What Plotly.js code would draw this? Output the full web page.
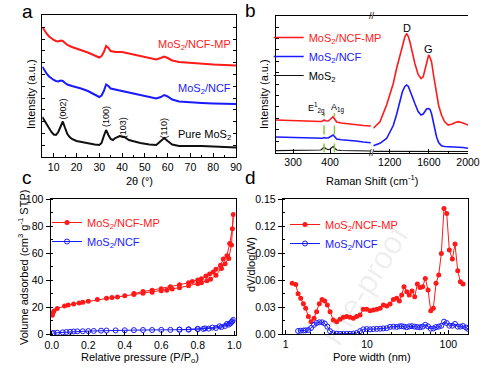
<!DOCTYPE html>
<html><head><meta charset="utf-8">
<script src="https://cdn.plot.ly/plotly-3.0.1.min.js"></script>
<style>html,body{margin:0;padding:0;background:#fff}#chart{width:492px;height:372px}</style>
</head><body><div id="chart"></div>
<script>
// ---------- Panel a: XRD ----------
const xrdTheta = [5,6,7,8,9,10,11,12,13,14,15,16,18,20,22,25,28,30,31,32,33,34,35,37,40,43,46,50,53,55,57,58.5,60,62,65,70,75,80,85,90];
const xrdMP = [130,126,123,120.5,118.5,117,116,115.5,116.5,116,114,112,110,108.5,107,104.5,101.5,99.5,101,105,111,109,106,105,105,103.5,102,100,98.5,97.5,99,100.5,99,96.5,95,94,93,92.5,92,91.5];
const xrdNCF = [90.3,86,83,80.5,78.5,77,76,75.5,76.5,76,74,72.5,71,70,68.5,66,62.5,60,61.5,66,72.5,71,68.5,67.5,66.5,65,63,61.5,60,58.5,60,62,60.5,57.5,55.5,54.5,54,53.5,53.5,53];
const xrdThetaPure = [5,6,7,8,9,10,11,12,13,14,15,16,17,18,20,22,25,28,30,31,32,33,34,35,36,37,39,41,43,45,48,52,55,57,58.5,60,62,65,68,70,75,80,85,90];
const xrdPure = [40,36,32,28,25,22.5,22,25,31,35.5,29,23,20,18,16,15,13.5,12.5,12,14,21,27,22,18,17,19,21,20,17,15.5,14,12.5,12,16,19,16,12.5,11,11,11.5,11,10.5,10,9.5];
const xrdPeakLabels = ["(002)","(100)","(103)","(110)"];
const xrdPeakPos = [14.3,33,40.5,58.6];
const xrdPeakLabelY = [48,40,29,29];

// ---------- Panel b: Raman ----------
const ramanLX = [253,270,290,310,330,350,365,375,380,384,388,395,400,405,408,412,418,430,450,470,490,510];
const ramanLMP = [32.5,32.2,31.8,31.5,31.2,30.8,30.8,31,31.5,32.5,31.8,31.5,33,35.5,35.8,33.5,30.5,29.5,28.5,27.8,27,26.5];
const ramanLNCF = [15.5,15.3,15,14.8,14.5,14.2,14,14,14.3,15,14.5,14.5,15.5,17,17.5,16,13.5,12.8,12.3,11.5,10.5,9.8];
const ramanLMoS2 = [1.8,1.8,1.8,1.8,1.9,2,2,2.5,4,5.5,4,2.8,3.5,5.5,6,4.5,2.5,2,1.8,1.6,1.5,1.5];
const ramanRX = [1032,1100,1168,1236,1270,1304,1330,1355,1372,1390,1406,1430,1457,1490,1520,1542,1560,1576,1598,1612,1627,1650,1678,1700,1729,1760,1797,1840,1870,1899,1950,2000];
const ramanRMP = [24.2,30.8,47.5,69,84,97.5,108,115.8,119,116,110.8,99,89,78,74,75.8,83,90.8,97.5,95,90.8,76,59,47,37.5,31,27.5,28.5,30,30.8,29.5,27.5];
const ramanRNCF = [6.8,9.2,14,27,38,52,61,66,67.5,66,62.5,56,49,41,37.5,38.5,41,43.5,44,43,39,27,15.8,10,6.8,6,5.8,5.8,5.8,5.8,5,4.2];
const ramanRMoS2 = [1.1,1.1,1.1,1.1,1.1,1.1,1.1,1.1,1.1,1.1,1.1,1.1,1.1,1.1,1.1,1.1,1.1,1.1,1.1,1.1,1.1,1.1,1.1,1.1,1.0,1.0,1.0,1.0,1.0,1.0,1.0,1.0];
const ramanModes = [383.7, 411.8];
const ramanModeLabels = ["E<sup>1</sup><sub>2g</sub>", "A<sub>1g</sub>"];
const ramanModeLabelX = [364, 421];

// ---------- Panel c: N2 isotherm ----------
const betMPAdsP = [0.003,0.006,0.012,0.03,0.07,0.09,0.12,0.15,0.17,0.2,0.25,0.3,0.33,0.36,0.4,0.45,0.5,0.55,0.6,0.63,0.66,0.7,0.75,0.8,0.82,0.85,0.87,0.9,0.93,0.95,0.97,0.985,0.995];
const betMPAdsV = [14,15.5,17,19,20.8,21.5,22.3,23,23.5,24.3,25.5,26.5,27,27.5,28.3,29.3,30.3,31,32,32.5,33.3,34.3,35.8,37.3,38,39.5,40.5,43.5,48.5,52,56,66,88.5];
const betMPDesP = [0.99,0.975,0.96,0.94,0.925,0.9,0.885,0.865,0.845,0.82,0.8,0.77,0.75,0.7,0.65,0.6,0.55,0.5,0.45];
const betMPDesV = [78,67,58,55.5,51,48,46,44.5,43,41,40,39,38,36.5,35,33.5,32.5,31.5,30];
const betNCFAdsP = [0.003,0.01,0.03,0.06,0.08,0.1,0.12,0.14,0.17,0.2,0.23,0.27,0.3,0.35,0.4,0.45,0.5,0.55,0.6,0.65,0.7,0.75,0.8,0.83,0.86,0.9,0.93,0.95,0.97,0.98,0.99,0.995];
const betNCFAdsV = [0.5,0.8,1.0,1.3,1.5,1.7,1.9,2.0,2.1,2.2,2.3,2.5,2.6,2.7,2.8,2.9,3.0,3.0,3.1,3.1,3.2,3.3,3.6,3.8,4.0,4.5,5.2,6.0,7.0,8.0,9.5,10.5];
const betNCFDesP = [0.985,0.96,0.92,0.88,0.84,0.8,0.75,0.7];
const betNCFDesV = [9.0,7.5,5.8,4.8,4.2,3.9,3.5,3.3];

// ---------- Panel d: pore size distribution ----------
const poreMPW = [1.2,1.33,1.42,1.53,1.65,1.76,1.9,2.05,2.23,2.4,2.59,2.8,3.02,3.25,3.51,3.85,4.24,4.66,5.12,5.62,6.18,6.79,7.46,8.2,9.01,9.91,10.9,11.97,13.2,14.5,15.9,17.5,19.2,21.1,23.2,25,26.7,28.5,30.8,33.1,35.7,38.6,41.6,44.9,48.4,52.1,56.3,60.8,65.4,70.6,76.2,82,88.5,95.5,102.9,112,120.8,130.5,140.6,151.7];
const poreMPV = [0.0565,0.0553,0.045,0.040,0.034,0.029,0.0196,0.014,0.0177,0.025,0.034,0.0387,0.037,0.0325,0.025,0.0159,0.014,0.0166,0.0188,0.0196,0.0188,0.0177,0.0196,0.0214,0.0277,0.0277,0.0262,0.027,0.0277,0.0288,0.0325,0.0314,0.0336,0.0387,0.040,0.037,0.0435,0.0528,0.0472,0.0435,0.048,0.0417,0.0557,0.052,0.0528,0.062,0.049,0.0262,0.0288,0.0565,0.0657,0.0897,0.1395,0.134,0.0934,0.0834,0.100,0.0705,0.0583,0.0557];
const poreNCFW = [1.42,1.53,1.65,1.76,1.9,2.05,2.23,2.4,2.59,2.8,3.02,3.25,3.51,3.85,4.24,4.66,5.12,5.62,6.18,6.79,7.46,8.2,9.01,9.91,10.9,11.97,13.2,14.5,15.9,17.5,19.2,21.1,23.2,25,26.7,28.5,30.8,33.1,35.7,38.6,41.6,44.9,48.4,52.1,56.3,60.8,65.4,70.6,76.2,82,88.5,95.5,102.9,112,120.8,130.5,140.6,151.7,165,175];
const poreNCFV = [0.0037,0.0040,0.0042,0.0044,0.0048,0.0070,0.0105,0.0125,0.0133,0.0133,0.012,0.0085,0.0035,0.0012,0.0006,0.0005,0.0005,0.0005,0.0005,0.0008,0.0015,0.0035,0.0055,0.0058,0.0055,0.0058,0.006,0.0062,0.0065,0.0068,0.0082,0.0085,0.0082,0.0088,0.009,0.0085,0.0078,0.0088,0.009,0.0085,0.008,0.0078,0.0085,0.0105,0.0088,0.0062,0.0065,0.008,0.0085,0.0095,0.014,0.0125,0.0095,0.0095,0.0115,0.0085,0.0085,0.0092,0.0075,0.006];

const RED = "#ff1a1a", BLUE = "#1a1aff", BLACK = "#111111", GREEN = "#8cc63f";
const FONT = "Liberation Sans, Arial, sans-serif";
const W = 492, H = 372;
const px = v => v / W, py = v => 1 - v / H;

const traces = [
  // panel a
  {x: xrdTheta, y: xrdMP, xaxis: "x", yaxis: "y", mode: "lines", line: {color: RED, width: 2}, showlegend: false},
  {x: xrdTheta, y: xrdNCF, xaxis: "x", yaxis: "y", mode: "lines", line: {color: BLUE, width: 2}, showlegend: false},
  {x: xrdThetaPure, y: xrdPure, xaxis: "x", yaxis: "y", mode: "lines", line: {color: BLACK, width: 2}, showlegend: false},
  // panel b
  {x: ramanLX, y: ramanLMP, xaxis: "x2", yaxis: "y2", mode: "lines", line: {color: RED, width: 1.6}, name: '<span style="color:#ff1a1a">MoS<sub>2</sub>/NCF-MP</span>', legend: "legend"},
  {x: ramanLX, y: ramanLNCF, xaxis: "x2", yaxis: "y2", mode: "lines", line: {color: BLUE, width: 1.6}, name: '<span style="color:#1a1aff">MoS<sub>2</sub>/NCF</span>', legend: "legend"},
  {x: ramanLX, y: ramanLMoS2, xaxis: "x2", yaxis: "y2", mode: "lines", line: {color: BLACK, width: 1.2}, name: 'MoS<sub>2</sub>', legend: "legend"},
  {x: ramanRX, y: ramanRMP, xaxis: "x3", yaxis: "y2", mode: "lines", line: {color: RED, width: 1.6}, showlegend: false},
  {x: ramanRX, y: ramanRNCF, xaxis: "x3", yaxis: "y2", mode: "lines", line: {color: BLUE, width: 1.6}, showlegend: false},
  {x: ramanRX, y: ramanRMoS2, xaxis: "x3", yaxis: "y2", mode: "lines", line: {color: BLACK, width: 1.2}, showlegend: false},
  // panel c
  {x: betMPAdsP.concat(betMPDesP), y: betMPAdsV.concat(betMPDesV), xaxis: "x4", yaxis: "y3", mode: "lines+markers",
   line: {color: RED, width: 1}, marker: {symbol: "circle", size: 5, color: RED}, name: '<span style="color:#ff1a1a">MoS<sub>2</sub>/NCF-MP</span>', legend: "legend2"},
  {x: betNCFAdsP.concat(betNCFDesP), y: betNCFAdsV.concat(betNCFDesV), xaxis: "x4", yaxis: "y3", mode: "lines+markers",
   line: {color: BLUE, width: 1}, marker: {symbol: "circle-open", size: 5, color: BLUE, line: {width: 1}}, name: '<span style="color:#1a1aff">MoS<sub>2</sub>/NCF</span>', legend: "legend2"},
  // panel d
  {x: poreMPW, y: poreMPV, xaxis: "x5", yaxis: "y4", mode: "lines+markers",
   line: {color: RED, width: 1}, marker: {symbol: "circle", size: 5, color: RED}, name: '<span style="color:#ff1a1a">MoS<sub>2</sub>/NCF-MP</span>', legend: "legend3"},
  {x: poreNCFW, y: poreNCFV, xaxis: "x5", yaxis: "y4", mode: "lines+markers",
   line: {color: BLUE, width: 1}, marker: {symbol: "circle-open", size: 5, color: BLUE, line: {width: 1}}, name: '<span style="color:#1a1aff">MoS<sub>2</sub>/NCF</span>', legend: "legend3"}
];

const tickFont = {family: FONT, size: 10.5, color: "#000"};
const baseAxis = {showline: true, linecolor: "#000", linewidth: 1, showgrid: false, zeroline: false, ticks: "outside", ticklen: 4, tickcolor: "#000", tickfont: tickFont, fixedrange: true};
const xBase = Object.assign({}, baseAxis, {ticks: "inside", ticklen: 4, mirror: true});
const minorIn = (o) => Object.assign({ticks: "inside", ticklen: 2, tickcolor: "#000"}, o);

const layout = {
  width: W, height: H, margin: {l: 0, r: 0, t: 0, b: 0},
  paper_bgcolor: "#fff", plot_bgcolor: "rgba(0,0,0,0)",
  font: {family: FONT, size: 11, color: "#000"},
  // a
  xaxis: Object.assign({}, xBase, {domain: [px(42.3), px(236)], anchor: "y", range: [5, 90], tick0: 0, dtick: 10, minor: minorIn({dtick: 5})}),
  yaxis: Object.assign({}, baseAxis, {domain: [py(157), py(15)], anchor: "x", range: [0, 142], showticklabels: false, ticks: "inside", ticklen: 3, dtick: 11.8, mirror: "ticks"}),
  // b
  xaxis2: Object.assign({}, xBase, {domain: [px(275.7), px(371.5)], anchor: "y2", range: [253, 512], tickvals: [300, 400]}),
  xaxis3: Object.assign({}, xBase, {domain: [px(373.3), px(468)], anchor: "y2", range: [1032, 2000], tickvals: [1200, 1600, 2000], minor: minorIn({tickvals: [1400, 1800]})}),
  yaxis2: Object.assign({}, baseAxis, {domain: [py(152.5), py(16)], anchor: "x2", range: [0, 136.5], showticklabels: false, ticks: "inside", ticklen: 3, dtick: 11.4}),
  yaxis5: Object.assign({}, baseAxis, {domain: [py(152.5), py(16)], anchor: "x3", overlaying: "y2", side: "right", range: [0, 136.5], showticklabels: false, ticks: "inside", ticklen: 3, dtick: 11.4}),
  // c
  xaxis4: Object.assign({}, xBase, {domain: [px(50.5), px(235.5)], anchor: "y3", range: [-0.007, 1.007], dtick: 0.2, tickformat: ".1f", minor: minorIn({dtick: 0.1})}),
  yaxis3: Object.assign({}, baseAxis, {domain: [py(335), py(199)], anchor: "x4", range: [-0.7, 100], dtick: 20, mirror: true, minor: minorIn({dtick: 10})}),
  // d
  xaxis5: Object.assign({}, xBase, {domain: [px(282.7), px(468)], anchor: "y4", type: "log", range: [-0.037, 2.242], tickvals: [1, 10, 100], minor: minorIn({tickvals: [2,3,4,5,6,7,8,9,20,30,40,50,60,70,80,90]})}),
  yaxis4: Object.assign({}, baseAxis, {domain: [py(334.3), py(199)], anchor: "x5", range: [0, 0.15], dtick: 0.03, tickformat: ".2f", mirror: true, minor: minorIn({dtick: 0.015})}),
  legend: {x: px(268.7), y: py(23), xanchor: "left", yanchor: "top", bgcolor: "rgba(0,0,0,0)", font: {family: FONT, size: 11}, tracegroupgap: 0},
  legend2: {x: px(47), y: py(208), xanchor: "left", yanchor: "top", bgcolor: "rgba(0,0,0,0)", font: {family: FONT, size: 11}},
  legend3: {x: px(285), y: py(210), xanchor: "left", yanchor: "top", bgcolor: "rgba(0,0,0,0)", font: {family: FONT, size: 11}},
  shapes: ramanModes.map(m => ({type: "line", xref: "x2", yref: "y2", x0: m, x1: m, y0: 0, y1: 39.5, line: {color: GREEN, width: 1.5, dash: "dash"}})),
  annotations: []
};

const ann = layout.annotations;
const A = (o) => ann.push(Object.assign({showarrow: false, xanchor: "center", yanchor: "middle", font: {family: FONT, size: 11, color: "#000"}}, o));
// panel letters
A({text: "a", xref: "paper", yref: "paper", x: px(27), y: py(12), font: {family: FONT, size: 19}});
A({text: "b", xref: "paper", yref: "paper", x: px(250), y: py(11), font: {family: FONT, size: 19}});
A({text: "c", xref: "paper", yref: "paper", x: px(27), y: py(177), font: {family: FONT, size: 19}});
A({text: "d", xref: "paper", yref: "paper", x: px(250), y: py(177), font: {family: FONT, size: 19}});
// axis titles
A({text: "Intensity (a.u.)", xref: "paper", yref: "paper", x: px(31), y: py(94), textangle: -90});
A({text: "2θ (°)", xref: "paper", yref: "paper", x: px(139), y: py(181)});
A({text: "Intensity (a.u.)", xref: "paper", yref: "paper", x: px(264), y: py(94), textangle: -90});
A({text: "Raman Shift (cm<sup>-1</sup>)", xref: "paper", yref: "paper", x: px(372), y: py(180)});
A({text: "Volume adsorbed (cm<sup>3</sup> g<sup>-1</sup> STP)", xref: "paper", yref: "paper", x: px(23), y: py(268), textangle: -90});
A({text: "Relative pressure (P/P<sub>o</sub>)", xref: "paper", yref: "paper", x: px(140), y: py(358)});
A({text: "dV/dlog(W)", xref: "paper", yref: "paper", x: px(251), y: py(265), textangle: -90});
A({text: "Pore width (nm)", xref: "paper", yref: "paper", x: px(372), y: py(357)});
// panel a labels
A({text: "MoS<sub>2</sub>/NCF-MP", xref: "x", yref: "y", x: 88.5, y: 112, xanchor: "right", font: {family: FONT, size: 11, color: RED}});
A({text: "MoS<sub>2</sub>/NCF", xref: "x", yref: "y", x: 88.5, y: 68, xanchor: "right", font: {family: FONT, size: 11, color: BLUE}});
A({text: "Pure MoS<sub>2</sub>", xref: "x", yref: "y", x: 88.5, y: 22, xanchor: "right", font: {family: FONT, size: 11, color: "#000"}});
xrdPeakLabels.forEach((t, i) => A({text: t, xref: "x", yref: "y", x: xrdPeakPos[i], y: xrdPeakLabelY[i], textangle: -90, font: {family: FONT, size: 9, color: "#000"}}));
// panel b labels
A({text: "D", xref: "x3", yref: "y2", x: 1372, y: 124.5});
A({text: "G", xref: "x3", yref: "y2", x: 1598, y: 103.2});
ramanModeLabels.forEach((t, i) => A({text: t, xref: "x2", yref: "y2", x: ramanModeLabelX[i], y: 44.5, font: {family: FONT, size: 9, color: "#000"}}));
A({text: "//", xref: "paper", yref: "paper", x: px(372.4), y: py(16), font: {family: FONT, size: 9}});
A({text: "//", xref: "paper", yref: "paper", x: px(372.4), y: py(152.5), font: {family: FONT, size: 9}});
// watermark
A({text: "Pre-proof", xref: "paper", yref: "paper", x: px(365), y: py(285), textangle: -58, font: {family: FONT, size: 32, color: "rgba(0,0,0,0.07)"}});

Plotly.newPlot("chart", traces, layout, {staticPlot: true, displayModeBar: false});
</script></body></html>
